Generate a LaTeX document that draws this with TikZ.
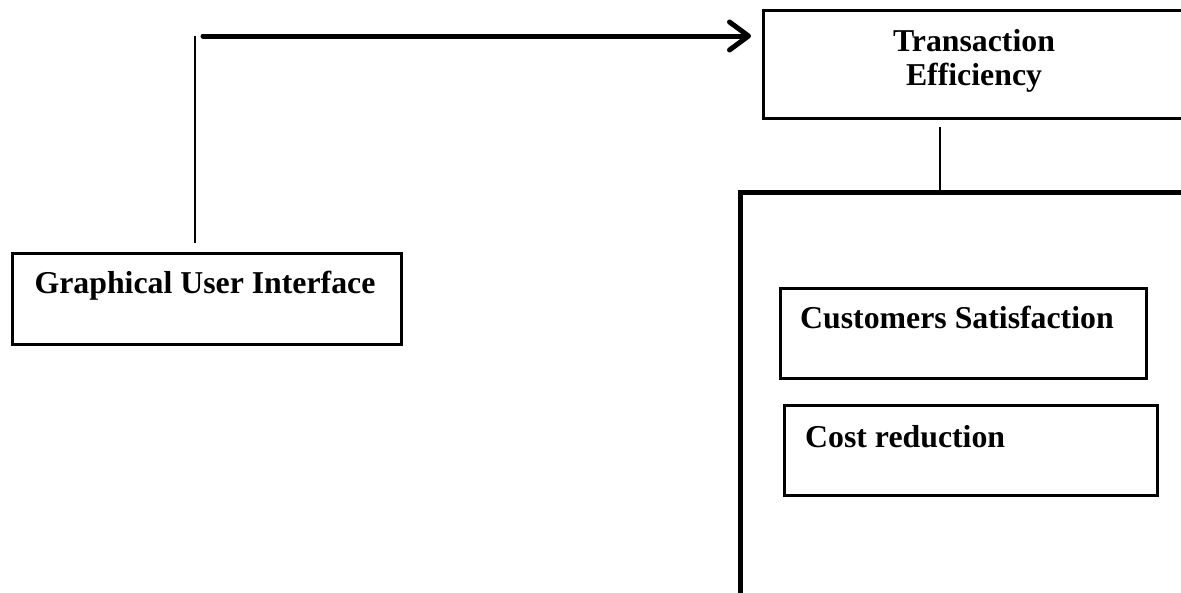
\documentclass[tikz,border=0pt]{standalone}
\usepackage{fontspec}
\setmainfont{Liberation Serif}
\usetikzlibrary{arrows.meta}
\tikzset{
  box/.style={draw=black, line width=2.8pt, fill=white, inner sep=0pt, anchor=north west},
  bigbox/.style={draw=black, line width=4.6pt, inner sep=0pt, anchor=north west},
  lbl/.style={font=\fontsize{31.8}{34}\selectfont\bfseries, inner sep=0pt},
  thin/.style={line width=2.5pt},
  thick arrow/.style={line width=5pt, line cap=round, -{Straight Barb[round, length=19pt, width=28pt]}}
}
\begin{document}
\begin{tikzpicture}[x=1pt, y=-1pt]
\clip (0,0) rectangle (1181,592);
\fill[white] (0,0) rectangle (1181,592);
% boxes
\node[box, minimum width=389pt, minimum height=91pt] (gui) at (11,252) {};
\node[box, minimum width=430pt, minimum height=108pt] (te) at (762,9) {};
\node[bigbox, minimum width=470pt, minimum height=430pt] (big) at (738,190) {};
\node[box, minimum width=366pt, minimum height=90pt] (cs) at (779,287) {};
\node[box, minimum width=373pt, minimum height=90pt] (cr) at (783,404) {};
% texts
\node[lbl, anchor=base] (guit) at (205,293) {Graphical User Interface};
\node[lbl, anchor=base] (tet1) at (974,51) {Transaction};
\node[lbl, anchor=base] (tet2) at (974,85) {Efficiency};
\node[lbl, anchor=base west] (cst) at (800,328) {Customers Satisfaction};
\node[lbl, anchor=base west] (crt) at (805,447) {Cost reduction};
% connectors
\coordinate (guiup) at (195,243);
\coordinate (guitop) at (195,36);
\coordinate (arrstart) at (203,36);
\coordinate (arrend) at (751,36);
\coordinate (tedown) at (940,127);
\draw[thin] (guiup) -- (guitop);
\draw[thick arrow] (arrstart) -- (arrend);
\draw[thin] (tedown) -- (tedown |- big.north);
\end{tikzpicture}
\end{document}
